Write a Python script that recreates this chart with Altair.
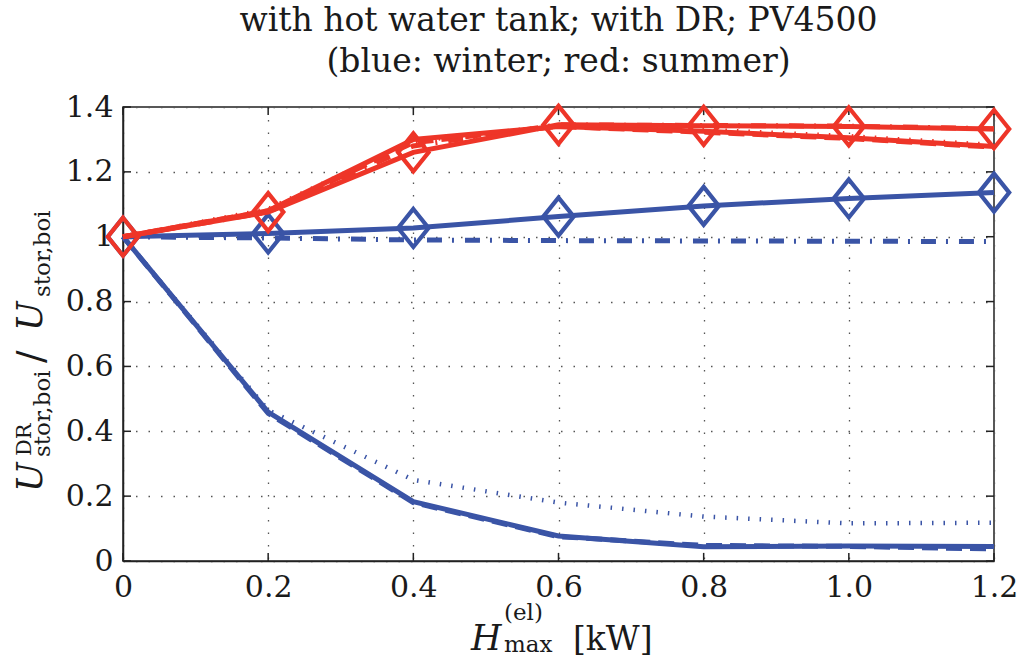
import altair as alt
import pandas as pd

# ---------------- data ----------------
h_max = [0.0, 0.2, 0.4, 0.6, 0.8, 1.0, 1.2]

winter_marked = [1.0, 1.010, 1.027, 1.062, 1.095, 1.118, 1.136]
winter_dashdot = [1.0, 0.996, 0.990, 0.988, 0.987, 0.986, 0.985]
winter_solid = [1.0, 0.459, 0.183, 0.077, 0.044, 0.046, 0.045]
winter_dashed = [1.0, 0.455, 0.180, 0.075, 0.048, 0.045, 0.037]
winter_dotted = [1.0, 0.465, 0.250, 0.180, 0.137, 0.116, 0.118]

summer_marked = [1.0, 1.076, 1.260, 1.345, 1.342, 1.340, 1.332]
summer_dashdot = [1.0, 1.076, 1.280, 1.345, 1.343, 1.341, 1.333]
summer_solid = [1.0, 1.080, 1.300, 1.340, 1.325, 1.305, 1.278]
summer_dashed = [1.0, 1.080, 1.290, 1.340, 1.322, 1.303, 1.276]
summer_dotted = [1.0, 1.085, 1.295, 1.342, 1.330, 1.310, 1.283]

x_ticks = [0.0, 0.2, 0.4, 0.6, 0.8, 1.0, 1.2]
y_ticks = [0.0, 0.2, 0.4, 0.6, 0.8, 1.0, 1.2, 1.4]

title_lines = ["with hot water tank; with DR; PV4500", "(blue: winter; red: summer)"]

# ---------------- styles ----------------
BLUE = "#3a54a6"
RED = "#ee3528"
SERIF = "DejaVu Serif"
DIAMOND = "M0,-1L0.8,0L0,1L-0.8,0Z"

series = [
    ("winter_dotted", winter_dotted, BLUE, [1.5, 10], 4.5),
    ("winter_dashed", winter_dashed, BLUE, [16, 8], 5),
    ("winter_solid", winter_solid, BLUE, None, 5),
    ("winter_dashdot", winter_dashdot, BLUE, [15, 10, 2, 11], 5),
    ("winter_marked", winter_marked, BLUE, None, 5),
    ("summer_dotted", summer_dotted, RED, [1.5, 10], 4.5),
    ("summer_dashed", summer_dashed, RED, [16, 8], 5),
    ("summer_dashdot", summer_dashdot, RED, [15, 10, 2, 11], 5),
    ("summer_solid", summer_solid, RED, None, 5),
    ("summer_marked", summer_marked, RED, None, 5),
]

rows = []
for name, vals, *_ in series:
    for xv, yv in zip(h_max, vals):
        rows.append({"series": name, "x": xv, "y": yv})
df = pd.DataFrame(rows)

xs = alt.Scale(domain=[0, 1.2], nice=False, zero=False)
ys = alt.Scale(domain=[0, 1.4], nice=False, zero=False)

base = alt.Chart(df)

layers = []

# axes + grid carrier (invisible points)
axis_layer = alt.Chart(pd.DataFrame({"x": x_ticks[:1], "y": y_ticks[:1]})).mark_point(opacity=0).encode(
    x=alt.X("x:Q", scale=xs, title=None,
            axis=alt.Axis(values=x_ticks, labelFlush=False, labelPadding=11,
                          labelExpr="format(datum.value, datum.value == 0 ? 'd' : '.1f')")),
    y=alt.Y("y:Q", scale=ys, title=None,
            axis=alt.Axis(values=y_ticks, labelFlush=False, labelPadding=10,
                          labelExpr="datum.value == 0 ? '0' : (datum.value == 1 ? '1' : format(datum.value, '.1f'))")),
)
layers.append(axis_layer)

# inward ticks
tick_df_x = pd.DataFrame({"t": x_ticks})
tick_df_y = pd.DataFrame({"t": y_ticks})
tick_style = dict(color="#222222", strokeWidth=1.5)
layers.append(alt.Chart(tick_df_x).mark_rule(**tick_style).encode(
    x=alt.X("t:Q", scale=xs), y=alt.datum(0, scale=ys), y2=alt.datum(0.025)))
layers.append(alt.Chart(tick_df_x).mark_rule(**tick_style).encode(
    x=alt.X("t:Q", scale=xs), y=alt.datum(1.4, scale=ys), y2=alt.datum(1.375)))
layers.append(alt.Chart(tick_df_y).mark_rule(**tick_style).encode(
    y=alt.Y("t:Q", scale=ys), x=alt.datum(0, scale=xs), x2=alt.datum(0.011)))
layers.append(alt.Chart(tick_df_y).mark_rule(**tick_style).encode(
    y=alt.Y("t:Q", scale=ys), x=alt.datum(1.2, scale=xs), x2=alt.datum(1.189)))

for name, vals, color, dash, width in series:
    kw = dict(color=color, strokeWidth=width, strokeCap="butt", strokeJoin="miter", clip=False)
    if dash:
        kw["strokeDash"] = dash
    layers.append(base.transform_filter(alt.datum.series == name).mark_line(**kw).encode(
        x=alt.X("x:Q", scale=xs), y=alt.Y("y:Q", scale=ys)))
    if name.endswith("marked"):
        layers.append(base.transform_filter(alt.datum.series == name).mark_point(
            shape=DIAMOND, size=1444, filled=False, color=color, strokeWidth=4.2, opacity=1, clip=False
        ).encode(x=alt.X("x:Q", scale=xs), y=alt.Y("y:Q", scale=ys)))

one = pd.DataFrame({"k": [0]})


def txt(text, x, y, size, italic=False, angle=0, align="left", baseline="alphabetic"):
    kw = dict(text=text, font=SERIF, fontSize=size, color="#1a1a1a", align=align, baseline=baseline)
    if italic:
        kw["fontStyle"] = "italic"
    if angle:
        kw["angle"] = angle
    return alt.Chart(one).mark_text(**kw).encode(x=alt.value(x), y=alt.value(y))


# title (plot-area coordinates; plot origin at (123,107))
layers.append(txt(title_lines[0], 435.5, -76, 33, align="center"))
layers.append(txt(title_lines[1], 435.5, -35, 33, align="center"))

# x-axis title: H^(el)_max [kW]
layers.append(txt("H", 348, 543, 35, italic=True))
layers.append(txt("(el)", 381, 513, 23))
layers.append(txt("max", 381, 545, 23))
layers.append(txt("[kW]", 450, 543, 33))

# y-axis title: U^DR_stor,boi / U_stor,boi (rotated)
layers.append(txt("U", -81, 385, 35, italic=True, angle=270))
layers.append(txt("DR", -92, 349, 21, angle=270))
layers.append(txt("stor,boi", -73, 350, 23, angle=270))
layers.append(txt("/", -80, 256, 37, angle=270))
layers.append(txt("U", -81, 224, 35, italic=True, angle=270))
layers.append(txt("stor,boi", -73, 190, 23, angle=270))

chart = alt.layer(*layers).properties(
    width=871, height=454,
    autosize=alt.AutoSizeParams(type="none"),
    padding={"left": 123, "top": 107, "right": 26, "bottom": 98},
    background="white",
).configure_view(
    stroke="#222222", strokeWidth=1.5
).configure_axis(
    labelFont=SERIF, labelFontSize=30, labelColor="#1a1a1a",
    ticks=False,
    domainColor="#222222", domainWidth=1.5,
    grid=True, gridColor="#555555", gridDash=[1.5, 11], gridWidth=1.3, gridOpacity=1,
)

chart.save("out.html", embed_options={"renderer": "svg", "actions": False})
